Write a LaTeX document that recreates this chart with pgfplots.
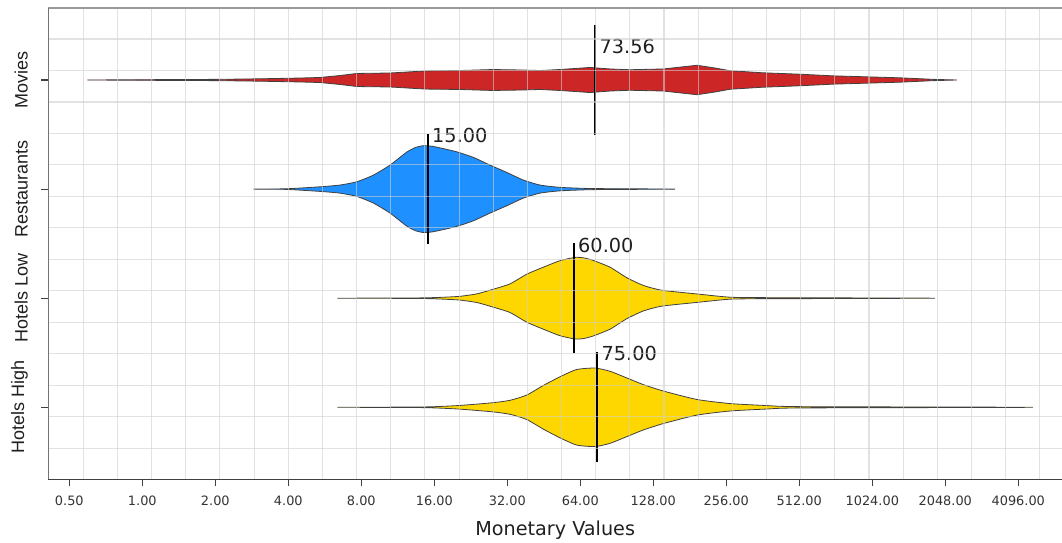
\documentclass[border=0pt]{standalone}
\usepackage{fontspec}
\setmainfont{DejaVu Sans}
\newfontfamily\libsans{Liberation Sans}
\usepackage{pgfplots}
\pgfplotsset{compat=1.18}
\usepackage{pgfplotstable}

\definecolor{vred}{HTML}{CD2626}
\definecolor{vblue}{HTML}{1E90FF}
\definecolor{vgold}{HTML}{FFD700}
\definecolor{gridc}{HTML}{CFCFCF}
\definecolor{outl}{HTML}{404040}

% x = monetary value, h = half width of the violin (category units), s = side (+1 upper, -1 lower)
\pgfplotstableread{
x h s
0.593 0 1
1.076 0.003 1
2.09 0.006 1
3.06 0.011 1
4.47 0.018 1
5.40 0.023 1
6.53 0.041 1
7.68 0.060 1
10.51 0.064 1
14.65 0.083 1
20.42 0.087 1
27.9 0.096 1
36.1 0.092 1
43.7 0.087 1
52.8 0.096 1
70.2 0.115 1
84.9 0.101 1
102.6 0.094 1
140.4 0.101 1
193.9 0.135 1
229.9 0.110 1
265.2 0.085 1
362.8 0.066 1
515.6 0.053 1
705 0.038 1
973.6 0.029 1
1332 0.020 1
1822 0.006 1
2288 0 1
1822 0.006 -1
1332 0.020 -1
973.6 0.029 -1
705 0.038 -1
515.6 0.053 -1
362.8 0.066 -1
265.2 0.085 -1
229.9 0.110 -1
193.9 0.135 -1
140.4 0.101 -1
102.6 0.094 -1
84.9 0.101 -1
70.2 0.115 -1
52.8 0.096 -1
43.7 0.087 -1
36.1 0.092 -1
27.9 0.096 -1
20.42 0.087 -1
14.65 0.083 -1
10.51 0.064 -1
7.68 0.060 -1
6.53 0.041 -1
5.40 0.023 -1
4.47 0.018 -1
3.06 0.011 -1
2.09 0.006 -1
1.076 0.003 -1
0.593 0 -1
}\movies

\pgfplotstableread{
x h s
2.87 0 1
3.94 0.003 1
5.40 0.021 1
6.53 0.037 1
7.66 0.067 1
8.97 0.128 1
10.51 0.220 1
12.31 0.339 1
13.36 0.381 1
14.41 0.398 1
15.61 0.393 1
16.89 0.378 1
19.79 0.342 1
23.17 0.291 1
27.15 0.220 1
31.82 0.153 1
37.25 0.083 1
43.66 0.037 1
52.8 0.016 1
72.2 0.005 1
157.3 0 1
72.2 0.005 -1
52.8 0.016 -1
43.66 0.037 -1
37.25 0.083 -1
31.82 0.153 -1
27.15 0.220 -1
23.17 0.291 -1
19.79 0.342 -1
16.89 0.378 -1
15.61 0.393 -1
14.41 0.398 -1
13.36 0.381 -1
12.31 0.339 -1
10.51 0.220 -1
8.97 0.128 -1
7.66 0.067 -1
6.53 0.037 -1
5.40 0.021 -1
3.94 0.003 -1
2.87 0 -1
}\restaurants

\pgfplotstableread{
x h s
6.37 0 1
14.41 0.003 1
20.10 0.016 1
24.0 0.040 1
27.59 0.078 1
32.83 0.131 1
38.48 0.220 1
45.04 0.284 1
52.8 0.344 1
60.86 0.374 1
66.0 0.370 1
72.4 0.346 1
84.9 0.284 1
99.5 0.188 1
116.4 0.117 1
138.6 0.073 1
193.3 0.039 1
265.2 0.009 1
375.6 0.005 1
1857 0 1
375.6 0.005 -1
265.2 0.009 -1
193.3 0.039 -1
138.6 0.073 -1
116.4 0.117 -1
99.5 0.188 -1
84.9 0.284 -1
72.4 0.346 -1
66.0 0.370 -1
60.86 0.374 -1
52.8 0.344 -1
45.04 0.284 -1
38.48 0.220 -1
32.83 0.131 -1
27.59 0.078 -1
24.0 0.040 -1
20.10 0.016 -1
14.41 0.003 -1
6.37 0 -1
}\hotelslow

\pgfplotstableread{
x h s
6.37 0 1
14.41 0.003 1
20.10 0.016 1
27.59 0.041 1
32.83 0.064 1
38.48 0.112 1
45.04 0.200 1
52.8 0.280 1
61.8 0.346 1
73.6 0.360 1
84.9 0.330 1
99.5 0.269 1
116.4 0.208 1
140.8 0.149 1
193.3 0.072 1
265.2 0.034 1
375.6 0.016 1
515.6 0.006 1
4709 0 1
515.6 0.006 -1
375.6 0.016 -1
265.2 0.034 -1
193.3 0.072 -1
140.8 0.149 -1
116.4 0.208 -1
99.5 0.269 -1
84.9 0.330 -1
73.6 0.360 -1
61.8 0.346 -1
52.8 0.280 -1
45.04 0.200 -1
38.48 0.112 -1
32.83 0.064 -1
27.59 0.041 -1
20.10 0.016 -1
14.41 0.003 -1
6.37 0 -1
}\hotelshigh

\begin{document}
\begin{tikzpicture}
\path[use as bounding box] (0,0) rectangle (1062pt,543pt);
\begin{axis}[
  name=ax,
  at={(48.3pt,63.7pt)}, anchor=south west,
  scale only axis, width=1013.7pt, height=471.3pt,
  xmode=log, log basis x=2,
  xmin=0.4095, xmax=6204, ymin=0.340, ymax=4.660,
  axis line style={draw=none},
  axis on top,
  xtick pos=left, ytick pos=left,
  xtick={0.5,1,2,4,8,16,32,64,128,256,512,1024,2048,4096},
  xticklabels={0.50,1.00,2.00,4.00,8.00,16.00,32.00,64.00,128.00,256.00,512.00,1024.00,2048.00,4096.00},
  ytick={1,2,3,4},
  yticklabels={Hotels High,Hotels Low,Restaurants,Movies},
  extra x ticks={0.5709,0.7896,1.0922,1.5107,2.0895,2.8901,3.9974,5.529,7.6475,10.578,14.631,20.237,27.99,38.715,53.549,74.067,102.45,141.70,196.00,271.10,374.97,518.64,717.36,992.22,1372.4,1898.2,2625.5,3631.5,5022.9},
  extra x tick labels={},
  extra x tick style={xmajorgrids=true, major tick length=0pt},
  minor ytick={0.6247,0.9132,1.2018,1.4903,1.7789,2.0674,2.3560,2.6445,2.9331,3.2216,3.5102,3.7987,4.0873,4.3758},
  yminorgrids,
  minor grid style={gridc, opacity=0.6, line width=1.1pt},
  major grid style={gridc, opacity=0.6, line width=1.1pt},
  minor tick length=0pt,
  tick align=outside,
  major tick length=7pt,
  tick style={outl, line width=1.1pt},
  xticklabel shift=6pt,
  yticklabel shift=10pt,
  xticklabel style={font=\fontsize{12.9}{14}\selectfont, text=black!80},
  yticklabel style={font=\libsans\fontsize{18}{20}\selectfont, rotate=90, anchor=south, text=black!88},
  xlabel={Monetary Values},
  every axis x label/.style={at={(axis description cs:0.5,0)}, anchor=center, yshift=-51pt, font=\fontsize{19.2}{22}\selectfont, text=black!88},
]
\addplot[fill=vred, draw=outl, line width=0.8pt] table[x=x, y expr=4+\thisrow{s}*\thisrow{h}] {\movies};
\addplot[fill=vblue, draw=outl, line width=0.8pt, smooth, tension=0.35] table[x=x, y expr=3+\thisrow{s}*\thisrow{h}] {\restaurants};
\addplot[fill=vgold, draw=outl, line width=0.8pt, smooth, tension=0.35] table[x=x, y expr=2+\thisrow{s}*\thisrow{h}] {\hotelslow};
\addplot[fill=vgold, draw=outl, line width=0.8pt, smooth, tension=0.35] table[x=x, y expr=1+\thisrow{s}*\thisrow{h}] {\hotelshigh};

\addplot[black, line width=2pt] coordinates {(73.56,3.495) (73.56,4.505)};
\addplot[black, line width=2pt] coordinates {(15,2.495) (15,3.505)};
\addplot[black, line width=2pt] coordinates {(60,1.495) (60,2.505)};
\addplot[black, line width=2pt] coordinates {(75,0.495) (75,1.505)};

\node[anchor=west, inner sep=0pt, xshift=4.5pt, font=\fontsize{19.3}{22}\selectfont, text=black!88] at (axis cs:73.56,4.305) {73.56};
\node[anchor=west, inner sep=0pt, xshift=4.5pt, font=\fontsize{19.3}{22}\selectfont, text=black!88] at (axis cs:15,3.489) {15.00};
\node[anchor=west, inner sep=0pt, xshift=4.5pt, font=\fontsize{19.3}{22}\selectfont, text=black!88] at (axis cs:60,2.483) {60.00};
\node[anchor=west, inner sep=0pt, xshift=4.5pt, font=\fontsize{19.3}{22}\selectfont, text=black!88] at (axis cs:75,1.491) {75.00};
\end{axis}
\draw[color=black!40, line width=1.2pt] (ax.north west) -- (ax.north east);
\draw[color=black!55, line width=1.3pt] (ax.south west) -- (ax.north west);
\draw[color=black!75, line width=1.3pt] (ax.south west) -- (ax.south east);
\end{tikzpicture}
\end{document}
